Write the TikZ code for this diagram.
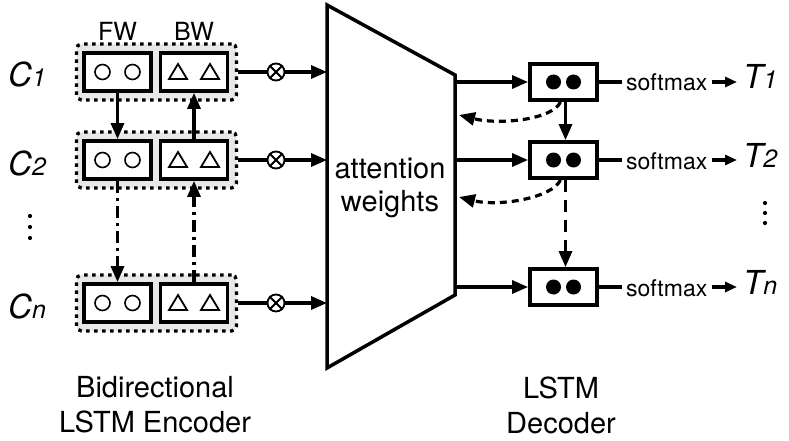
\documentclass[tikz,border=0pt]{standalone}
\usepackage{fontspec}
\setmainfont{TeX Gyre Heros}
\usetikzlibrary{arrows.meta}

\definecolor{grpgray}{gray}{0.91}
\newcommand{\seqlab}[2]{\textit{#1{\fontsize{25}{25}\selectfont #2}}}

\begin{document}
\begin{tikzpicture}[x=1pt, y=-1pt,
        every node/.style = {inner sep=0pt},
        cell/.style = {draw, fill=white, line width=3.8pt, minimum width=67pt, minimum height=38pt},
        group/.style = {draw, fill=grpgray, line width=3.3pt,
                        dash pattern=on 3.5pt off 4.5pt, rounded corners=5pt,
                        minimum width=160pt, minimum height=56pt},
        otimes/.style = {circle, draw, line width=1.8pt, minimum size=17pt},
        arr/.style = {line width=3.2pt, -{Triangle[length=16pt,width=13pt]}},
        smallarr/.style = {line width=3.2pt, -{Triangle[length=12pt,width=10pt]}},
        dashdot/.style = {dash pattern=on 12pt off 5pt on 3pt off 5pt},
        longdash/.style = {dash pattern=on 12pt off 8pt},
        curvedash/.style = {dash pattern=on 7pt off 5pt},
        seqfont/.style = {font=\fontsize{33}{33}\selectfont}]
    \useasboundingbox (0,0) rectangle (789,441);

    % attention block
    \coordinate (tl) at (327,5);
    \coordinate (tr) at (455,75);
    \coordinate (br) at (455,295);
    \coordinate (bl) at (327,368);
    \draw[line width=3.5pt, line join=miter] (tl) -- (tr) -- (br) -- (bl) -- cycle;
    \node[align=center, font=\fontsize{29}{33}\selectfont] (att) at (390,188) {attention\\weights};

    % encoder
    \node[font=\fontsize{25}{25}\selectfont] (fwlab) at (117.5,31) {FW};
    \node[font=\fontsize{25}{25}\selectfont] (bwlab) at (194,31) {BW};
    \foreach \r/\y in {1/72, 2/160, n/303} {
        \node[group] (grp\r) at (156.5,\y) {};
        \node[cell] (fw\r) at (117.5,\y) {};
        \node[cell] (bw\r) at (194,\y) {};
        \draw[line width=1.6pt] ([xshift=-15pt]fw\r.center) circle (7.5pt)
                                ([xshift=15pt]fw\r.center) circle (7.5pt);
        \draw[line width=1.8pt] ([xshift=-16pt]bw\r.center) +(-9,7) -- +(9,7) -- +(0,-8) -- cycle
                                ([xshift=16pt]bw\r.center) +(-9,7) -- +(9,7) -- +(0,-8) -- cycle;
        \node[seqfont, anchor=base west] (c\r) at (8,\y+15) {\seqlab{C}{\r}};
        \node[otimes] (ox\r) at (276,\y) {};
        \draw[line width=1.8pt] (ox\r.north east) -- (ox\r.south west)
                                (ox\r.north west) -- (ox\r.south east);
        \draw[line width=3.2pt] (grp\r.east) -- (ox\r.west);
        \draw[arr] (ox\r.east) -- (ox\r.east -| tl);
    }
    \draw[arr] (fw1.south) -- (fw2.north);
    \draw[arr] (bw2.north) -- (bw1.south);
    \draw[arr, dashdot] (fw2.south) -- (fwn.north);
    \draw[arr, dashdot] (bwn.north) -- (bw2.south);
    \foreach \d in {216,227,238} \fill (30,\d) circle (2.1pt);

    % decoder
    \foreach \r/\y in {1/82, 2/160, n/287} {
        \node[cell, minimum height=36pt] (dec\r) at (563.5,\y) {};
        \fill ([xshift=-10pt]dec\r.center) circle (7.5pt)
              ([xshift=10pt]dec\r.center) circle (7.5pt);
        \draw[arr] (dec\r.west -| tr) -- (dec\r.west);
        \node[anchor=base west, inner xsep=4pt, font=\fontsize{23}{23}\selectfont]
            (sm\r) at (622,\y+9) {softmax};
        \draw[line width=3.2pt] (dec\r.east) -- (dec\r.east -| sm\r.west);
        \node[seqfont, anchor=base west, inner xsep=6pt] (t\r) at (737,\y+7) {\seqlab{T}{\r}};
        \draw[smallarr] (sm\r.east |- dec\r.east) -- (t\r.west |- dec\r.east);
    }
    \coordinate (back1) at (459,115);
    \coordinate (back2) at (459,197);
    \draw[arr, curvedash] ([xshift=-3pt]dec1.south) .. controls +(-8,18) and +(40,10) .. (back1);
    \draw[arr, curvedash] ([xshift=-3pt]dec2.south) .. controls +(-8,18) and +(40,10) .. (back2);
    \draw[arr] ([xshift=2pt]dec1.south) -- ([xshift=2pt]dec2.north);
    \draw[arr, longdash] ([xshift=2pt]dec2.south) -- ([xshift=2pt]decn.north);
    \foreach \d in {203,213,223} \fill (765,\d) circle (2.1pt);

    % captions
    \node[align=center, font=\fontsize{29}{35}\selectfont] (enclab) at (155,405) {Bidirectional\\LSTM Encoder};
    \node[align=center, font=\fontsize{29}{35}\selectfont] (declab) at (561,405) {LSTM\\Decoder};
\end{tikzpicture}
\end{document}
